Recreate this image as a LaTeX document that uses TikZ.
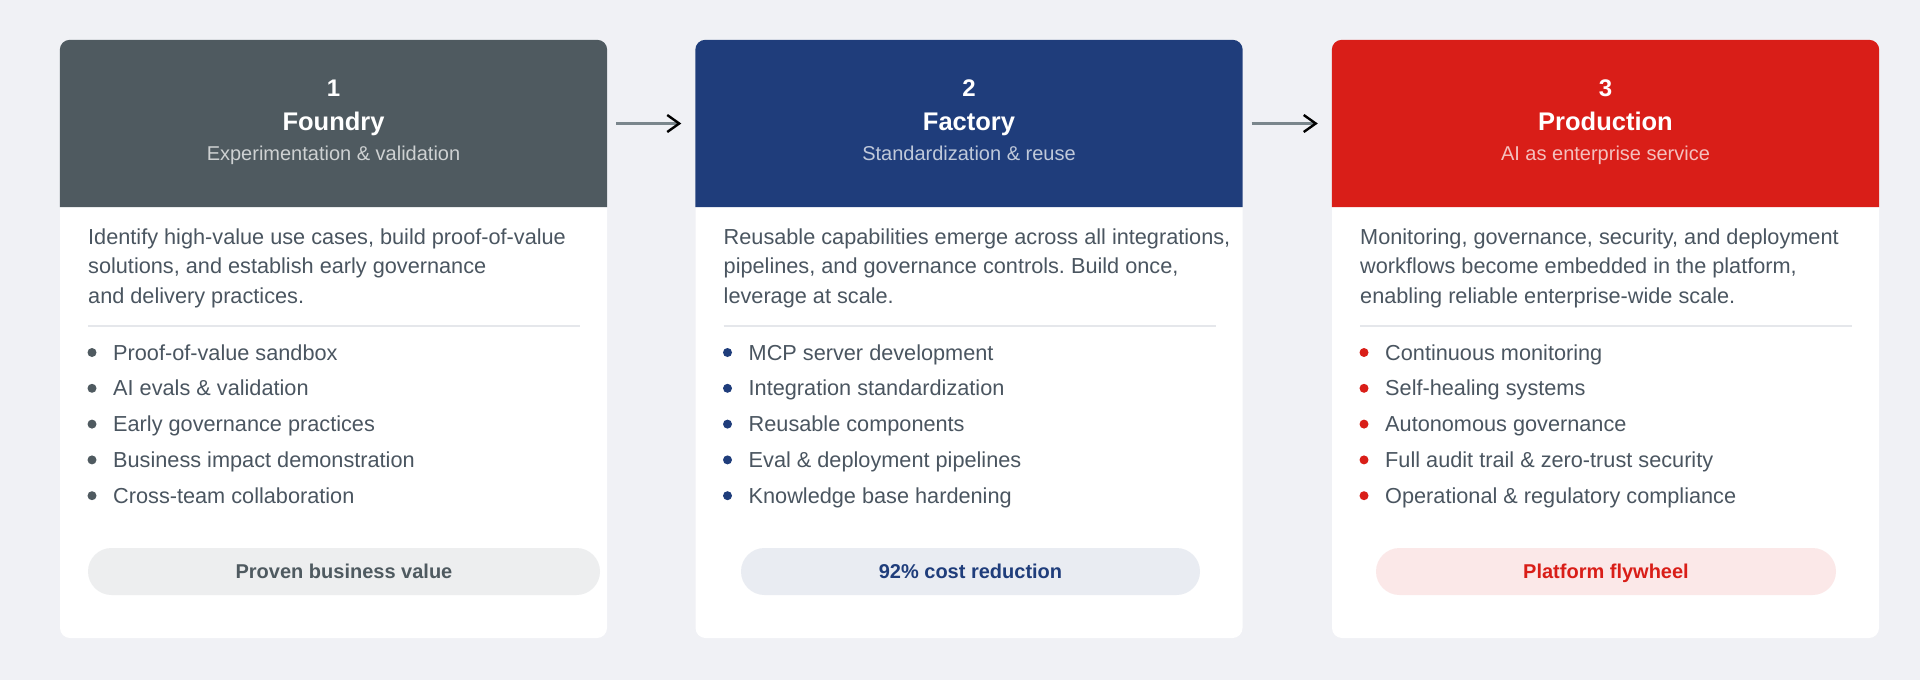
\documentclass[tikz,border=0pt]{standalone}
\usepackage{fontspec}
\setmainfont{Liberation Sans}
\usetikzlibrary{arrows.meta}
\frenchspacing
\definecolor{bgc}{HTML}{F0F1F5}
\definecolor{hA}{HTML}{4F5A60}
\definecolor{hB}{HTML}{1F3D7B}
\definecolor{hC}{HTML}{D91E18}
\definecolor{txt}{HTML}{4A5560}
\definecolor{divc}{HTML}{E5E7EB}
\definecolor{arrc}{HTML}{7A868C}
\tikzset{
  card/.style={rectangle, fill=white, rounded corners=10pt, minimum width=547pt, minimum height=598pt, inner sep=0pt},
  hdrbox/.style={rectangle, minimum width=547pt, minimum height=167pt, inner sep=0pt},
  numtxt/.style={anchor=base, inner sep=0pt, text=white, font=\fontsize{24}{28}\selectfont\bfseries},
  titletxt/.style={anchor=base, inner sep=0pt, text=white, font=\fontsize{25.5}{30}\selectfont\bfseries},
  subtxt/.style={anchor=base, inner sep=0pt, font=\fontsize{20}{24}\selectfont},
  desc/.style={anchor=base west, inner sep=0pt, text=txt, font=\fontsize{21.7}{30}\selectfont},
  btxt/.style={anchor=base west, inner sep=0pt, text=txt, font=\fontsize{21.7}{30}\selectfont},
  bdot/.style={circle, inner sep=0pt, minimum size=9pt},
  divline/.style={draw=divc, line width=2pt},
  pill/.style={rectangle, rounded corners=23.5pt, minimum height=47pt, inner sep=0pt, text height=14.4pt, text depth=0pt, font=\fontsize{20}{24}\selectfont\bfseries},
  flow/.style={draw=arrc, line width=3pt, -{Straight Barb[length=12pt, width=17pt, line width=2.4pt, color=black]}},
}
\begin{document}
\begin{tikzpicture}[x=1pt, y=-1pt]
\useasboundingbox (0,0) rectangle (1920,680);
\fill[bgc] (0,0) rectangle (1920,680);

% ---------- Card 1 ----------
\node[card] (c1) at (333.5,339) {};
\node[hdrbox] (h1) at (333.5,123.5) {};
\fill[hA] (h1.south west) [rounded corners=10pt] -- (h1.north west) -- (h1.north east) [sharp corners] -- (h1.south east) -- cycle;
\node[numtxt] (n1) at (333.5,96) {1};
\node[titletxt] (t1) at (333.5,130) {Foundry};
\node[subtxt, text=white!72!hA] (s1) at (333.5,160) {Experimentation \& validation};
\node[desc] (d1a) at (88,244) {Identify high-value use cases, build proof-of-value};
\node[desc] (d1b) at (88,273.5) {solutions, and establish early governance};
\node[desc] (d1c) at (88,303) {and delivery practices.};
\draw[divline] (88,326) -- (580,326);
\node[bdot, fill=hA] (p1a) at (92,352.5) {};
\node[btxt] (b1a) at (113,360) {Proof-of-value sandbox};
\node[bdot, fill=hA] (p1b) at (92,388.3) {};
\node[btxt] (b1b) at (113,395.8) {AI evals \& validation};
\node[bdot, fill=hA] (p1c) at (92,424.1) {};
\node[btxt] (b1c) at (113,431.6) {Early governance practices};
\node[bdot, fill=hA] (p1d) at (92,459.9) {};
\node[btxt] (b1d) at (113,467.4) {Business impact demonstration};
\node[bdot, fill=hA] (p1e) at (92,495.7) {};
\node[btxt] (b1e) at (113,503.2) {Cross-team collaboration};
\node[pill, fill=hA!10!white, text=hA, minimum width=512pt] (q1) at (344,571.5) {Proven business value};

% ---------- Card 2 ----------
\node[card] (c2) at (969,339) {};
\node[hdrbox] (h2) at (969,123.5) {};
\fill[hB] (h2.south west) [rounded corners=10pt] -- (h2.north west) -- (h2.north east) [sharp corners] -- (h2.south east) -- cycle;
\node[numtxt] (n2) at (969,96) {2};
\node[titletxt] (t2) at (969,130) {Factory};
\node[subtxt, text=white!72!hB] (s2) at (969,160) {Standardization \& reuse};
\node[desc] (d2a) at (723.5,244) {Reusable capabilities emerge across all integrations,};
\node[desc] (d2b) at (723.5,273.5) {pipelines, and governance controls. Build once,};
\node[desc] (d2c) at (723.5,303) {leverage at scale.};
\draw[divline] (723.5,326) -- (1215.5,326);
\node[bdot, fill=hB] (p2a) at (727.5,352.5) {};
\node[btxt] (b2a) at (748.5,360) {MCP server development};
\node[bdot, fill=hB] (p2b) at (727.5,388.3) {};
\node[btxt] (b2b) at (748.5,395.8) {Integration standardization};
\node[bdot, fill=hB] (p2c) at (727.5,424.1) {};
\node[btxt] (b2c) at (748.5,431.6) {Reusable components};
\node[bdot, fill=hB] (p2d) at (727.5,459.9) {};
\node[btxt] (b2d) at (748.5,467.4) {Eval \& deployment pipelines};
\node[bdot, fill=hB] (p2e) at (727.5,495.7) {};
\node[btxt] (b2e) at (748.5,503.2) {Knowledge base hardening};
\node[pill, fill=hB!10!white, text=hB, minimum width=459pt] (q2) at (970.5,571.5) {92\% cost reduction};

% ---------- Card 3 ----------
\node[card] (c3) at (1605.5,339) {};
\node[hdrbox] (h3) at (1605.5,123.5) {};
\fill[hC] (h3.south west) [rounded corners=10pt] -- (h3.north west) -- (h3.north east) [sharp corners] -- (h3.south east) -- cycle;
\node[numtxt] (n3) at (1605.5,96) {3};
\node[titletxt] (t3) at (1605.5,130) {Production};
\node[subtxt, text=white!72!hC] (s3) at (1605.5,160) {AI as enterprise service};
\node[desc] (d3a) at (1360,244) {Monitoring, governance, security, and deployment};
\node[desc] (d3b) at (1360,273.5) {workflows become embedded in the platform,};
\node[desc] (d3c) at (1360,303) {enabling reliable enterprise-wide scale.};
\draw[divline] (1360,326) -- (1852,326);
\node[bdot, fill=hC] (p3a) at (1364,352.5) {};
\node[btxt] (b3a) at (1385,360) {Continuous monitoring};
\node[bdot, fill=hC] (p3b) at (1364,388.3) {};
\node[btxt] (b3b) at (1385,395.8) {Self-healing systems};
\node[bdot, fill=hC] (p3c) at (1364,424.1) {};
\node[btxt] (b3c) at (1385,431.6) {Autonomous governance};
\node[bdot, fill=hC] (p3d) at (1364,459.9) {};
\node[btxt] (b3d) at (1385,467.4) {Full audit trail \& zero-trust security};
\node[bdot, fill=hC] (p3e) at (1364,495.7) {};
\node[btxt] (b3e) at (1385,503.2) {Operational \& regulatory compliance};
\node[pill, fill=hC!10!white, text=hC, minimum width=460pt] (q3) at (1606,571.5) {Platform flywheel};

% ---------- Connectors ----------
\draw[flow, shorten <=9pt, shorten >=14pt] (h1.east) -- (h2.west);
\draw[flow, shorten <=9pt, shorten >=14pt] (h2.east) -- (h3.west);
\end{tikzpicture}
\end{document}
